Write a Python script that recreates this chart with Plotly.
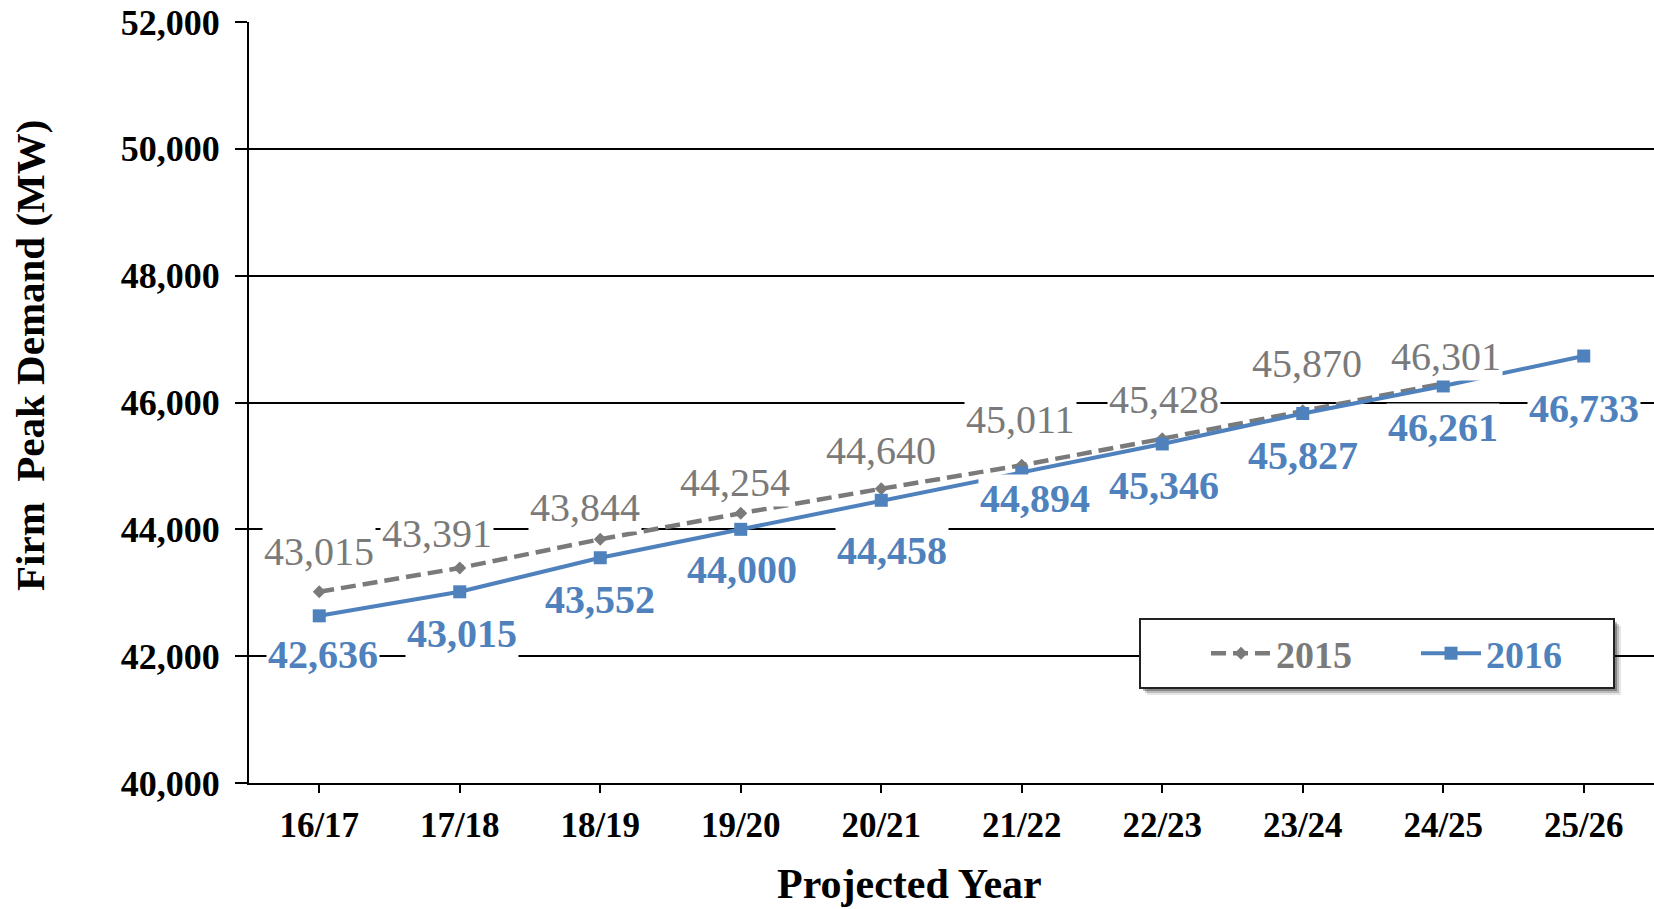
import plotly.graph_objects as go

# Projected firm peak demand (MW) by planning year
years = ["16/17", "17/18", "18/19", "19/20", "20/21",
         "21/22", "22/23", "23/24", "24/25", "25/26"]
forecast_2015 = [43015, 43391, 43844, 44254, 44640, 45011, 45428, 45870, 46301]
forecast_2016 = [42636, 43015, 43552, 44000, 44458, 44894, 45346, 45827, 46261, 46733]

# label nudges in pixels (dx, dy; positive dy = upward)
label_shift_2015 = [(0, 40), (-23, 34), (-15, 32), (-6, 31), (0, 38),
                    (-1, 46), (2, 39), (4, 47), (3, 27)]
label_shift_2016 = [(4, -39), (2, -42), (0, -42), (1, -40), (11, -50),
                    (13, -26), (2, -42), (0, -42), (0, -42), (0, -52)]

GRAY = "#7a7a7a"
BLUE = "#4f81bd"
FONT = "Liberation Serif"

W, H = 1654, 909
ML, MR, MT, MB = 249, 0, 22, 126
PW, PH = W - ML - MR, H - MT - MB


def px_to_paper_x(px):
    return (px - ML) / PW


def px_to_paper_y(py):
    return (H - MB - py) / PH


fig = go.Figure()

fig.add_trace(go.Scatter(
    x=years[:len(forecast_2015)], y=forecast_2015, mode="lines+markers",
    name="2015",
    line=dict(color=GRAY, width=4.5, dash="15px,7px"),
    marker=dict(symbol="diamond", size=10, color=GRAY),
))
fig.add_trace(go.Scatter(
    x=years, y=forecast_2016, mode="lines+markers",
    name=f"<span style='color:{BLUE}'>2016</span>",
    line=dict(color=BLUE, width=4),
    marker=dict(symbol="square", size=13, color=BLUE),
))

annotations = []
for yr, v, (dx, dy) in zip(years, forecast_2015, label_shift_2015):
    annotations.append(dict(
        x=yr, y=v, xref="x", yref="y", text=f"{v:,}", showarrow=False,
        xshift=dx, yshift=dy, bgcolor="white", borderpad=1,
        font=dict(family=FONT, size=40, color=GRAY),
    ))
for yr, v, (dx, dy) in zip(years, forecast_2016, label_shift_2016):
    annotations.append(dict(
        x=yr, y=v, xref="x", yref="y", text=f"<b>{v:,}</b>", showarrow=False,
        xshift=dx, yshift=dy, bgcolor="white", borderpad=1,
        font=dict(family=FONT, size=40, color=BLUE),
    ))

# axis titles
annotations.append(dict(
    text="<b>Firm  Peak Demand (MW)</b>", textangle=-90, showarrow=False,
    xref="paper", yref="paper", x=px_to_paper_x(30), y=px_to_paper_y(356),
    xanchor="center", yanchor="middle",
    font=dict(family=FONT, size=41, color="black"),
))
annotations.append(dict(
    text="<b>Projected Year</b>", showarrow=False,
    xref="paper", yref="paper", x=px_to_paper_x(909), y=px_to_paper_y(884),
    xanchor="center", yanchor="middle",
    font=dict(family=FONT, size=42, color="black"),
))

# legend frame with a soft drop shadow
bx0, bx1, by0, by1 = 1140, 1614, 619, 688
shapes = []
for off, alpha in [(7, 0.10), (5, 0.18), (3, 0.28)]:
    shapes.append(dict(
        type="rect", xref="paper", yref="paper", layer="above",
        x0=px_to_paper_x(bx0 + off), x1=px_to_paper_x(bx1 + off),
        y0=px_to_paper_y(by1 + off), y1=px_to_paper_y(by0 + off),
        line=dict(width=0), fillcolor=f"rgba(0,0,0,{alpha})",
    ))
shapes.append(dict(
    type="rect", xref="paper", yref="paper", layer="above",
    x0=px_to_paper_x(bx0), x1=px_to_paper_x(bx1),
    y0=px_to_paper_y(by1), y1=px_to_paper_y(by0),
    line=dict(width=2, color="#222222"), fillcolor="white",
))

fig.update_layout(
    width=W, height=H,
    margin=dict(l=ML, r=MR, t=MT, b=MB),
    paper_bgcolor="white", plot_bgcolor="white",
    font=dict(family=FONT, color="black"),
    showlegend=True,
    legend=dict(
        orientation="h", x=px_to_paper_x(1206), y=px_to_paper_y(622),
        xanchor="left", yanchor="top",
        bgcolor="rgba(0,0,0,0)", borderwidth=0,
        font=dict(family=FONT, size=38, color=GRAY, weight="bold"),
        entrywidth=135, itemwidth=60,
    ),
    annotations=annotations,
    shapes=shapes,
    xaxis=dict(
        type="category", categoryorder="array", categoryarray=years,
        range=[-0.5, len(years) - 0.5],
        showline=True, linecolor="black", linewidth=2,
        ticks="outside", ticklen=8, tickwidth=1.5, tickcolor="black",
        showgrid=False, zeroline=False,
        tickfont=dict(family=FONT, size=35, color="black", weight="bold"),
        ticklabelstandoff=2,
    ),
    xaxis2=dict(
        overlaying="x", anchor="y", side="bottom",
        range=[-0.5, len(years) - 0.5],
        tickvals=list(range(len(years))), showticklabels=False,
        ticks="inside", ticklen=8, tickwidth=1.5, tickcolor="black",
        showgrid=False, showline=False, zeroline=False,
    ),
    yaxis=dict(
        range=[40000, 52000], dtick=2000, tickformat=",",
        showline=True, linecolor="black", linewidth=2,
        showgrid=True, gridcolor="black", gridwidth=1.5,
        ticks="outside", ticklen=12, tickwidth=1.5, tickcolor="black",
        zeroline=False,
        tickfont=dict(family=FONT, size=36, color="black", weight="bold"),
        ticklabelstandoff=8,
    ),
)

fig.write_html("out.html")
